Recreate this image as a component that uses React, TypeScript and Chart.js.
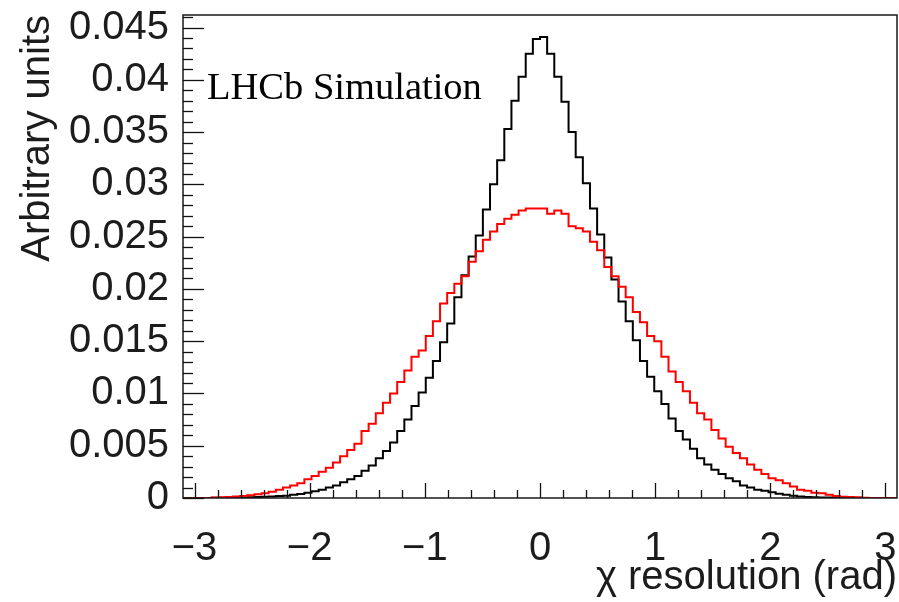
import React, { useEffect, useRef } from "react";
import { Chart, registerables } from "chart.js";

Chart.register(...registerables);

// Histogram binning (100 bins from -3.1 to 3.1)
const X_MIN = -3.1;
const X_MAX = 3.1;
const N_BINS = 100;
const Y_MIN = 0;
const Y_MAX = 0.0462;

const xTickValues = [-3, -2, -1, 0, 1, 2, 3];
const yTickValues = [0, 0.005, 0.01, 0.015, 0.02, 0.025, 0.03, 0.035, 0.04, 0.045];

const xTitle = "\u03c7 resolution (rad)";
const yTitle = "Arbitrary units";
const labelText = "LHCb Simulation";

// Black histogram (bin contents, left to right)
const blackValues = [
  0, 0, 0, 0, 0.00002, 0.00003, 0.00004, 0.00005, 0.00006, 0.00008,
  0.0001, 0.00012, 0.00014, 0.00018, 0.00022, 0.0003, 0.00038, 0.0005, 0.00065, 0.0008,
  0.001, 0.0012, 0.0015, 0.0018, 0.0021, 0.0026, 0.0031, 0.0038, 0.0045, 0.0053,
  0.0064, 0.0075, 0.0088, 0.0101, 0.0115, 0.0131, 0.0149, 0.0167, 0.0192, 0.0213,
  0.0231, 0.0251, 0.0276, 0.03, 0.0323, 0.0353, 0.038, 0.0403, 0.0425, 0.0439,
  0.0441, 0.0425, 0.0403, 0.0379, 0.035, 0.0326, 0.0301, 0.0277, 0.0252, 0.023,
  0.0209, 0.0188, 0.0169, 0.0151, 0.0131, 0.0116, 0.0102, 0.009, 0.0076, 0.0064,
  0.0056, 0.0047, 0.0038, 0.0032, 0.0027, 0.0023, 0.0019, 0.0016, 0.0012, 0.001,
  0.0008, 0.0007, 0.00054, 0.0004, 0.0003, 0.00022, 0.00015, 0.0001, 0.00007, 0.00005,
  0.00004, 0.00003, 0.00002, 0.00001, 0, 0, 0, 0, 0, 0,
];

// Red histogram (bin contents, left to right)
const redValues = [
  0, 0, 0, 0, 0.00004, 0.00007, 0.0001, 0.00015, 0.0002, 0.00027,
  0.00035, 0.00045, 0.0006, 0.0008, 0.001, 0.0012, 0.0014, 0.0018, 0.0021, 0.0025,
  0.0029, 0.0034, 0.004, 0.0046, 0.0052, 0.0064, 0.0071, 0.0081, 0.0091, 0.01,
  0.0111, 0.0122, 0.0135, 0.0141, 0.0155, 0.0169, 0.0186, 0.0196, 0.0205, 0.0212,
  0.0226, 0.0236, 0.0247, 0.0255, 0.0262, 0.0267, 0.0271, 0.0275, 0.0277, 0.0277,
  0.0277, 0.0272, 0.0275, 0.0272, 0.026, 0.0258, 0.0255, 0.0245, 0.0237, 0.0221,
  0.0212, 0.0202, 0.0192, 0.0178, 0.0168, 0.0155, 0.015, 0.0135, 0.0121, 0.0111,
  0.0102, 0.0091, 0.0081, 0.0075, 0.0065, 0.0057, 0.0049, 0.0043, 0.0038, 0.0032,
  0.0027, 0.0023, 0.0019, 0.0017, 0.0014, 0.0011, 0.0008, 0.0007, 0.0005, 0.00045,
  0.0003, 0.0002, 0.00013, 0.0001, 0.00006, 0.00003, 0, 0, 0, 0,
];

const BIN_WIDTH = (X_MAX - X_MIN) / N_BINS;
const binEdges = Array.from({ length: N_BINS + 1 }, (_, i) => X_MIN + i * BIN_WIDTH);

// Each bin is drawn as a horizontal segment from its low edge to its high edge.
function histPoints(values: number[]) {
  const pts = values.map((v, i) => ({ x: binEdges[i], y: v }));
  pts.push({ x: binEdges[N_BINS], y: values[values.length - 1] });
  return pts;
}

function fmtY(v: number) {
  return String(parseFloat(v.toFixed(4)));
}
function fmtX(v: number) {
  return v < 0 ? "\u2212" + String(Math.abs(v)) : String(v);
}

const SANS = "'Liberation Sans', Arial, Helvetica, sans-serif";
const SERIF = "'Liberation Serif', 'Times New Roman', serif";
const TEXT_COLOR = "#1c1c1c";

function zeroPadding(scale: any) {
  scale.paddingLeft = 0;
  scale.paddingRight = 0;
  scale.paddingTop = 0;
  scale.paddingBottom = 0;
}

const framePlugin = {
  id: "rootFrame",
  afterDraw(chart: any) {
    const { ctx, chartArea } = chart;
    const xs = chart.scales.x;
    const ys = chart.scales.y;
    const { left, right, top, bottom } = chartArea;
    ctx.save();
    ctx.strokeStyle = "#1a1a1a";
    ctx.lineWidth = 1.5;
    ctx.strokeRect(left, top, right - left, bottom - top);
    ctx.lineWidth = 1.3;
    ctx.strokeStyle = "#111";
    // x ticks (inward, major every 1, minor every 0.2)
    for (let k = -15; k <= 15; k++) {
      const v = k * 0.2;
      const px = xs.getPixelForValue(v);
      const major = k % 5 === 0;
      const len = major ? 15 : 8;
      ctx.beginPath();
      ctx.moveTo(Math.round(px) + 0.5, bottom);
      ctx.lineTo(Math.round(px) + 0.5, bottom - len);
      ctx.stroke();
    }
    // y ticks (inward, major every 0.005, minor every 0.001)
    for (let k = 0; k * 0.001 <= Y_MAX + 1e-9; k++) {
      const v = k * 0.001;
      const py = ys.getPixelForValue(v);
      const major = k % 5 === 0;
      const len = major ? 21 : 10;
      ctx.beginPath();
      ctx.moveTo(left, Math.round(py) + 0.5);
      ctx.lineTo(left + len, Math.round(py) + 0.5);
      ctx.stroke();
    }
    // label
    ctx.fillStyle = "#000";
    ctx.font = "38.5px " + SERIF;
    ctx.textAlign = "left";
    ctx.textBaseline = "alphabetic";
    ctx.fillText(labelText, 207, 99);
    ctx.restore();
  },
};

export default function App() {
  const canvasRef = useRef<HTMLCanvasElement | null>(null);

  useEffect(() => {
    document.body.style.margin = "0";
    const canvas = canvasRef.current;
    if (!canvas) return;
    const chart = new Chart(canvas, {
      type: "line",
      data: {
        datasets: [
          {
            label: "red",
            data: histPoints(redValues),
            borderColor: "#ff0000",
            borderWidth: 2,
            pointRadius: 0,
            fill: false,
            stepped: "before",
            order: 0,
          },
          {
            label: "black",
            data: histPoints(blackValues),
            borderColor: "#000000",
            borderWidth: 2,
            pointRadius: 0,
            fill: false,
            stepped: "before",
            order: 1,
          },
        ],
      },
      options: {
        animation: false,
        responsive: false,
        devicePixelRatio: 1,
        layout: { padding: { left: 0, right: 2, top: 15, bottom: 0 } },
        plugins: {
          legend: { display: false },
          tooltip: { enabled: false },
          title: { display: false },
        },
        scales: {
          x: {
            type: "linear",
            min: X_MIN,
            max: X_MAX,
            grid: { display: false, drawTicks: false },
            border: { display: false },
            afterBuildTicks: (scale: any) => {
              scale.ticks = xTickValues.map((v) => ({ value: v }));
            },
            afterFit: (scale: any) => {
              scale.height = 104;
              zeroPadding(scale);
            },
            ticks: {
              color: TEXT_COLOR,
              font: { family: SANS, size: 40, lineHeight: 1 },
              padding: 31,
              maxRotation: 0,
              autoSkip: false,
              callback: (v: any) => fmtX(Number(v)),
            },
            title: {
              display: true,
              text: xTitle,
              align: "end",
              color: TEXT_COLOR,
              font: { family: SANS, size: 40, lineHeight: 1 },
              padding: { top: 0, bottom: 4 },
            },
          },
          y: {
            type: "linear",
            min: Y_MIN,
            max: Y_MAX,
            grid: { display: false, drawTicks: false },
            border: { display: false },
            afterBuildTicks: (scale: any) => {
              scale.ticks = yTickValues.map((v) => ({ value: v }));
            },
            afterFit: (scale: any) => {
              scale.width = 183;
              zeroPadding(scale);
            },
            ticks: {
              color: TEXT_COLOR,
              font: { family: SANS, size: 40, lineHeight: 1 },
              padding: 14,
              autoSkip: false,
              callback: (v: any) => fmtY(Number(v)),
            },
            title: {
              display: true,
              text: yTitle,
              align: "end",
              color: TEXT_COLOR,
              font: { family: SANS, size: 40, lineHeight: 1 },
              padding: { top: 18, bottom: 0 },
            },
          },
        },
      },
      plugins: [framePlugin],
    });
    return () => chart.destroy();
  }, []);

  return (
    <div style={{ width: 899, height: 602, background: "#fff" }}>
      <canvas ref={canvasRef} width={899} height={602} />
    </div>
  );
}
